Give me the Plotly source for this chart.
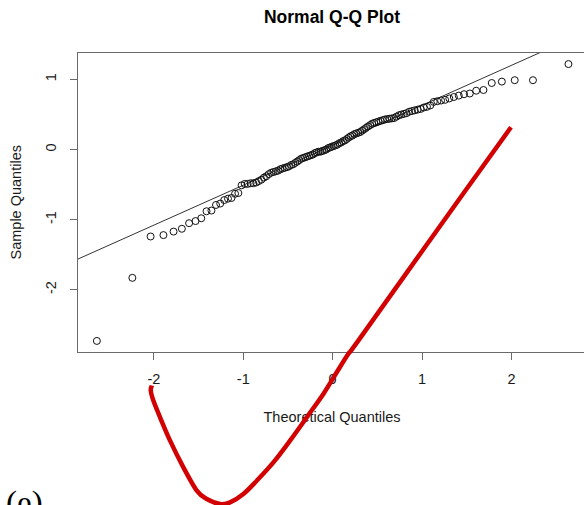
import statistics
import numpy as np
import plotly.graph_objects as go

# Theoretical normal quantiles (n = 120) and the sorted sample values
THEO_Q = [
    -2.638, -2.241, -2.037, -1.893, -1.780, -1.687, -1.606, -1.534, -1.470, -1.411,
    -1.356, -1.305, -1.258, -1.213, -1.171, -1.131, -1.092, -1.055, -1.019, -0.984,
    -0.951, -0.918, -0.887, -0.856, -0.827, -0.798, -0.769, -0.742, -0.714, -0.688,
    -0.662, -0.636, -0.610, -0.585, -0.561, -0.536, -0.512, -0.489, -0.465, -0.442,
    -0.419, -0.396, -0.374, -0.352, -0.330, -0.308, -0.286, -0.264, -0.243, -0.221,
    -0.200, -0.179, -0.157, -0.136, -0.115, -0.094, -0.073, -0.052, -0.031, -0.010,
    0.010, 0.031, 0.052, 0.073, 0.094, 0.115, 0.136, 0.157, 0.179, 0.200,
    0.221, 0.243, 0.264, 0.286, 0.308, 0.330, 0.352, 0.374, 0.396, 0.419,
    0.442, 0.465, 0.489, 0.512, 0.536, 0.561, 0.585, 0.610, 0.636, 0.662,
    0.688, 0.714, 0.742, 0.769, 0.798, 0.827, 0.856, 0.887, 0.918, 0.951,
    0.984, 1.019, 1.055, 1.092, 1.131, 1.171, 1.213, 1.258, 1.305, 1.356,
    1.411, 1.470, 1.534, 1.606, 1.687, 1.780, 1.893, 2.037, 2.241, 2.638,
]

SAMPLE_Q = [
    -2.73, -1.83, -1.24, -1.22, -1.17, -1.13, -1.05, -1.02, -0.98, -0.88,
    -0.87, -0.79, -0.77, -0.72, -0.70, -0.69, -0.63, -0.62, -0.51, -0.49,
    -0.49, -0.48, -0.48, -0.47, -0.45, -0.43, -0.40, -0.38, -0.35, -0.33,
    -0.32, -0.31, -0.30, -0.28, -0.27, -0.26, -0.25, -0.24, -0.22, -0.21,
    -0.19, -0.17, -0.15, -0.13, -0.12, -0.11, -0.10, -0.09, -0.08, -0.07,
    -0.05, -0.04, -0.03, -0.03, -0.02, -0.01, 0.00, 0.02, 0.03, 0.04,
    0.05, 0.06, 0.07, 0.09, 0.10, 0.12, 0.13, 0.15, 0.17, 0.19,
    0.20, 0.22, 0.23, 0.24, 0.25, 0.27, 0.29, 0.31, 0.33, 0.35,
    0.37, 0.38, 0.39, 0.40, 0.41, 0.42, 0.43, 0.435, 0.44, 0.445,
    0.45, 0.47, 0.49, 0.50, 0.51, 0.52, 0.54, 0.55, 0.56, 0.57,
    0.58, 0.60, 0.61, 0.63, 0.68, 0.69, 0.70, 0.71, 0.73, 0.75,
    0.77, 0.79, 0.80, 0.84, 0.85, 0.95, 0.97, 0.99, 0.99, 1.22,
]

X_TICKS = [-2, -1, 0, 1, 2]
Y_TICKS = [-2, -1, 0, 1]

# Hand-drawn red marker stroke, in axis units
RED_STROKE_X = [1.995, 1.14, 0.287, 0.176, 0.046, -0.104, -0.290, -0.477, -0.663,
                -0.849, -0.999, -1.148, -1.260, -1.408, -1.520, -1.670, -1.819,
                -1.931, -2.006, -2.035, -2.023]
RED_STROKE_Y = [0.319, -1.20, -2.726, -2.914, -3.177, -3.486, -3.820, -4.153, -4.463,
                -4.724, -4.914, -5.034, -5.057, -4.986, -4.867, -4.534, -4.153,
                -3.820, -3.581, -3.439, -3.367]

X_RANGE = [-2.849, 2.812]
Y_RANGE = [-2.888, 1.378]

SANS = "Liberation Sans, Arial, sans-serif"
INK = "#1a1a1a"
FRAME = "#6a6a6a"

# qqline: straight line through the first and third quartiles
z = statistics.NormalDist().inv_cdf(0.75)
q1, q3 = np.quantile(SAMPLE_Q, [0.25, 0.75])
slope = (q3 - q1) / (2 * z)
intercept = q1 + slope * z
line_x = np.array([-4.0, 4.0])
line_y = intercept + slope * line_x

fig = go.Figure()
fig.add_trace(go.Scatter(
    x=line_x, y=line_y, mode="lines",
    line=dict(color="#333333", width=1), hoverinfo="skip",
))
fig.add_trace(go.Scatter(
    x=THEO_Q, y=SAMPLE_Q, mode="markers",
    marker=dict(symbol="circle-open", size=7, color="#111111", line=dict(width=1)),
))


def to_paper(xs, ys):
    px = [(v - X_RANGE[0]) / (X_RANGE[1] - X_RANGE[0]) for v in xs]
    py = [(v - Y_RANGE[0]) / (Y_RANGE[1] - Y_RANGE[0]) for v in ys]
    return list(zip(px, py))


def smooth_path(pts):
    # Catmull-Rom spline through the points, as cubic Bezier segments
    d = f"M {pts[0][0]:.5f},{pts[0][1]:.5f}"
    n = len(pts)
    for i in range(n - 1):
        p0 = pts[max(i - 1, 0)]
        p1 = pts[i]
        p2 = pts[i + 1]
        p3 = pts[min(i + 2, n - 1)]
        c1 = (p1[0] + (p2[0] - p0[0]) / 6, p1[1] + (p2[1] - p0[1]) / 6)
        c2 = (p2[0] - (p3[0] - p1[0]) / 6, p2[1] - (p3[1] - p1[1]) / 6)
        d += (f" C {c1[0]:.5f},{c1[1]:.5f} {c2[0]:.5f},{c2[1]:.5f}"
              f" {p2[0]:.5f},{p2[1]:.5f}")
    return d


# x-axis title drawn as a shape label so the red stroke sits on top of it
fig.add_shape(
    type="rect", xref="paper", yref="paper",
    x0=0.40, x1=0.604, y0=-0.235, y1=-0.187,
    line=dict(width=0), fillcolor="rgba(0,0,0,0)",
    label=dict(text="Theoretical Quantiles", textposition="middle center",
               font=dict(family=SANS, size=14.5, color=INK)),
)

fig.add_shape(
    type="path", xref="paper", yref="paper",
    path=smooth_path(to_paper(RED_STROKE_X, RED_STROKE_Y)),
    line=dict(color="#d20000", width=4.5), fillcolor="rgba(0,0,0,0)",
    layer="above",
)

fig.add_annotation(
    text="Sample Quantiles", xref="paper", yref="paper",
    x=-0.1245, y=0.50, textangle=-90, showarrow=False,
    xanchor="center", yanchor="middle",
    font=dict(family=SANS, size=14.5, color=INK),
)

fig.add_annotation(
    text="(e)", xref="paper", yref="paper",
    x=-0.146, y=-0.438, showarrow=False,
    xanchor="left", yanchor="top",
    font=dict(family="Liberation Serif, Times New Roman, serif", size=33, color="#000000"),
)

fig.update_layout(
    width=584, height=505,
    margin=dict(l=78, r=0, t=53, b=153),
    plot_bgcolor="white", paper_bgcolor="white",
    showlegend=False,
    font=dict(family=SANS, color=INK),
    title=dict(
        text="Normal Q-Q Plot", xref="paper", x=0.502,
        yref="container", y=1 - 17 / 505, yanchor="middle", xanchor="center",
        font=dict(family=SANS, size=17.5, color="#000000", weight="bold"),
    ),
)

fig.update_xaxes(
    range=X_RANGE, tickvals=X_TICKS, ticktext=[str(v) for v in X_TICKS],
    ticks="outside", ticklen=7, tickwidth=1, tickcolor=FRAME,
    showline=True, linecolor=FRAME, linewidth=1, mirror=True,
    showgrid=False, zeroline=False, ticklabelstandoff=7,
    tickfont=dict(family=SANS, size=14.5, color=INK),
)
fig.update_yaxes(
    range=Y_RANGE, tickvals=Y_TICKS, ticktext=[str(v) for v in Y_TICKS],
    tickangle=-90,
    ticks="outside", ticklen=7, tickwidth=1, tickcolor=FRAME,
    showline=True, linecolor=FRAME, linewidth=1, mirror=False,
    showgrid=False, zeroline=False, ticklabelstandoff=8,
    tickfont=dict(family=SANS, size=14.5, color=INK),
)

fig.write_html("out.html")
